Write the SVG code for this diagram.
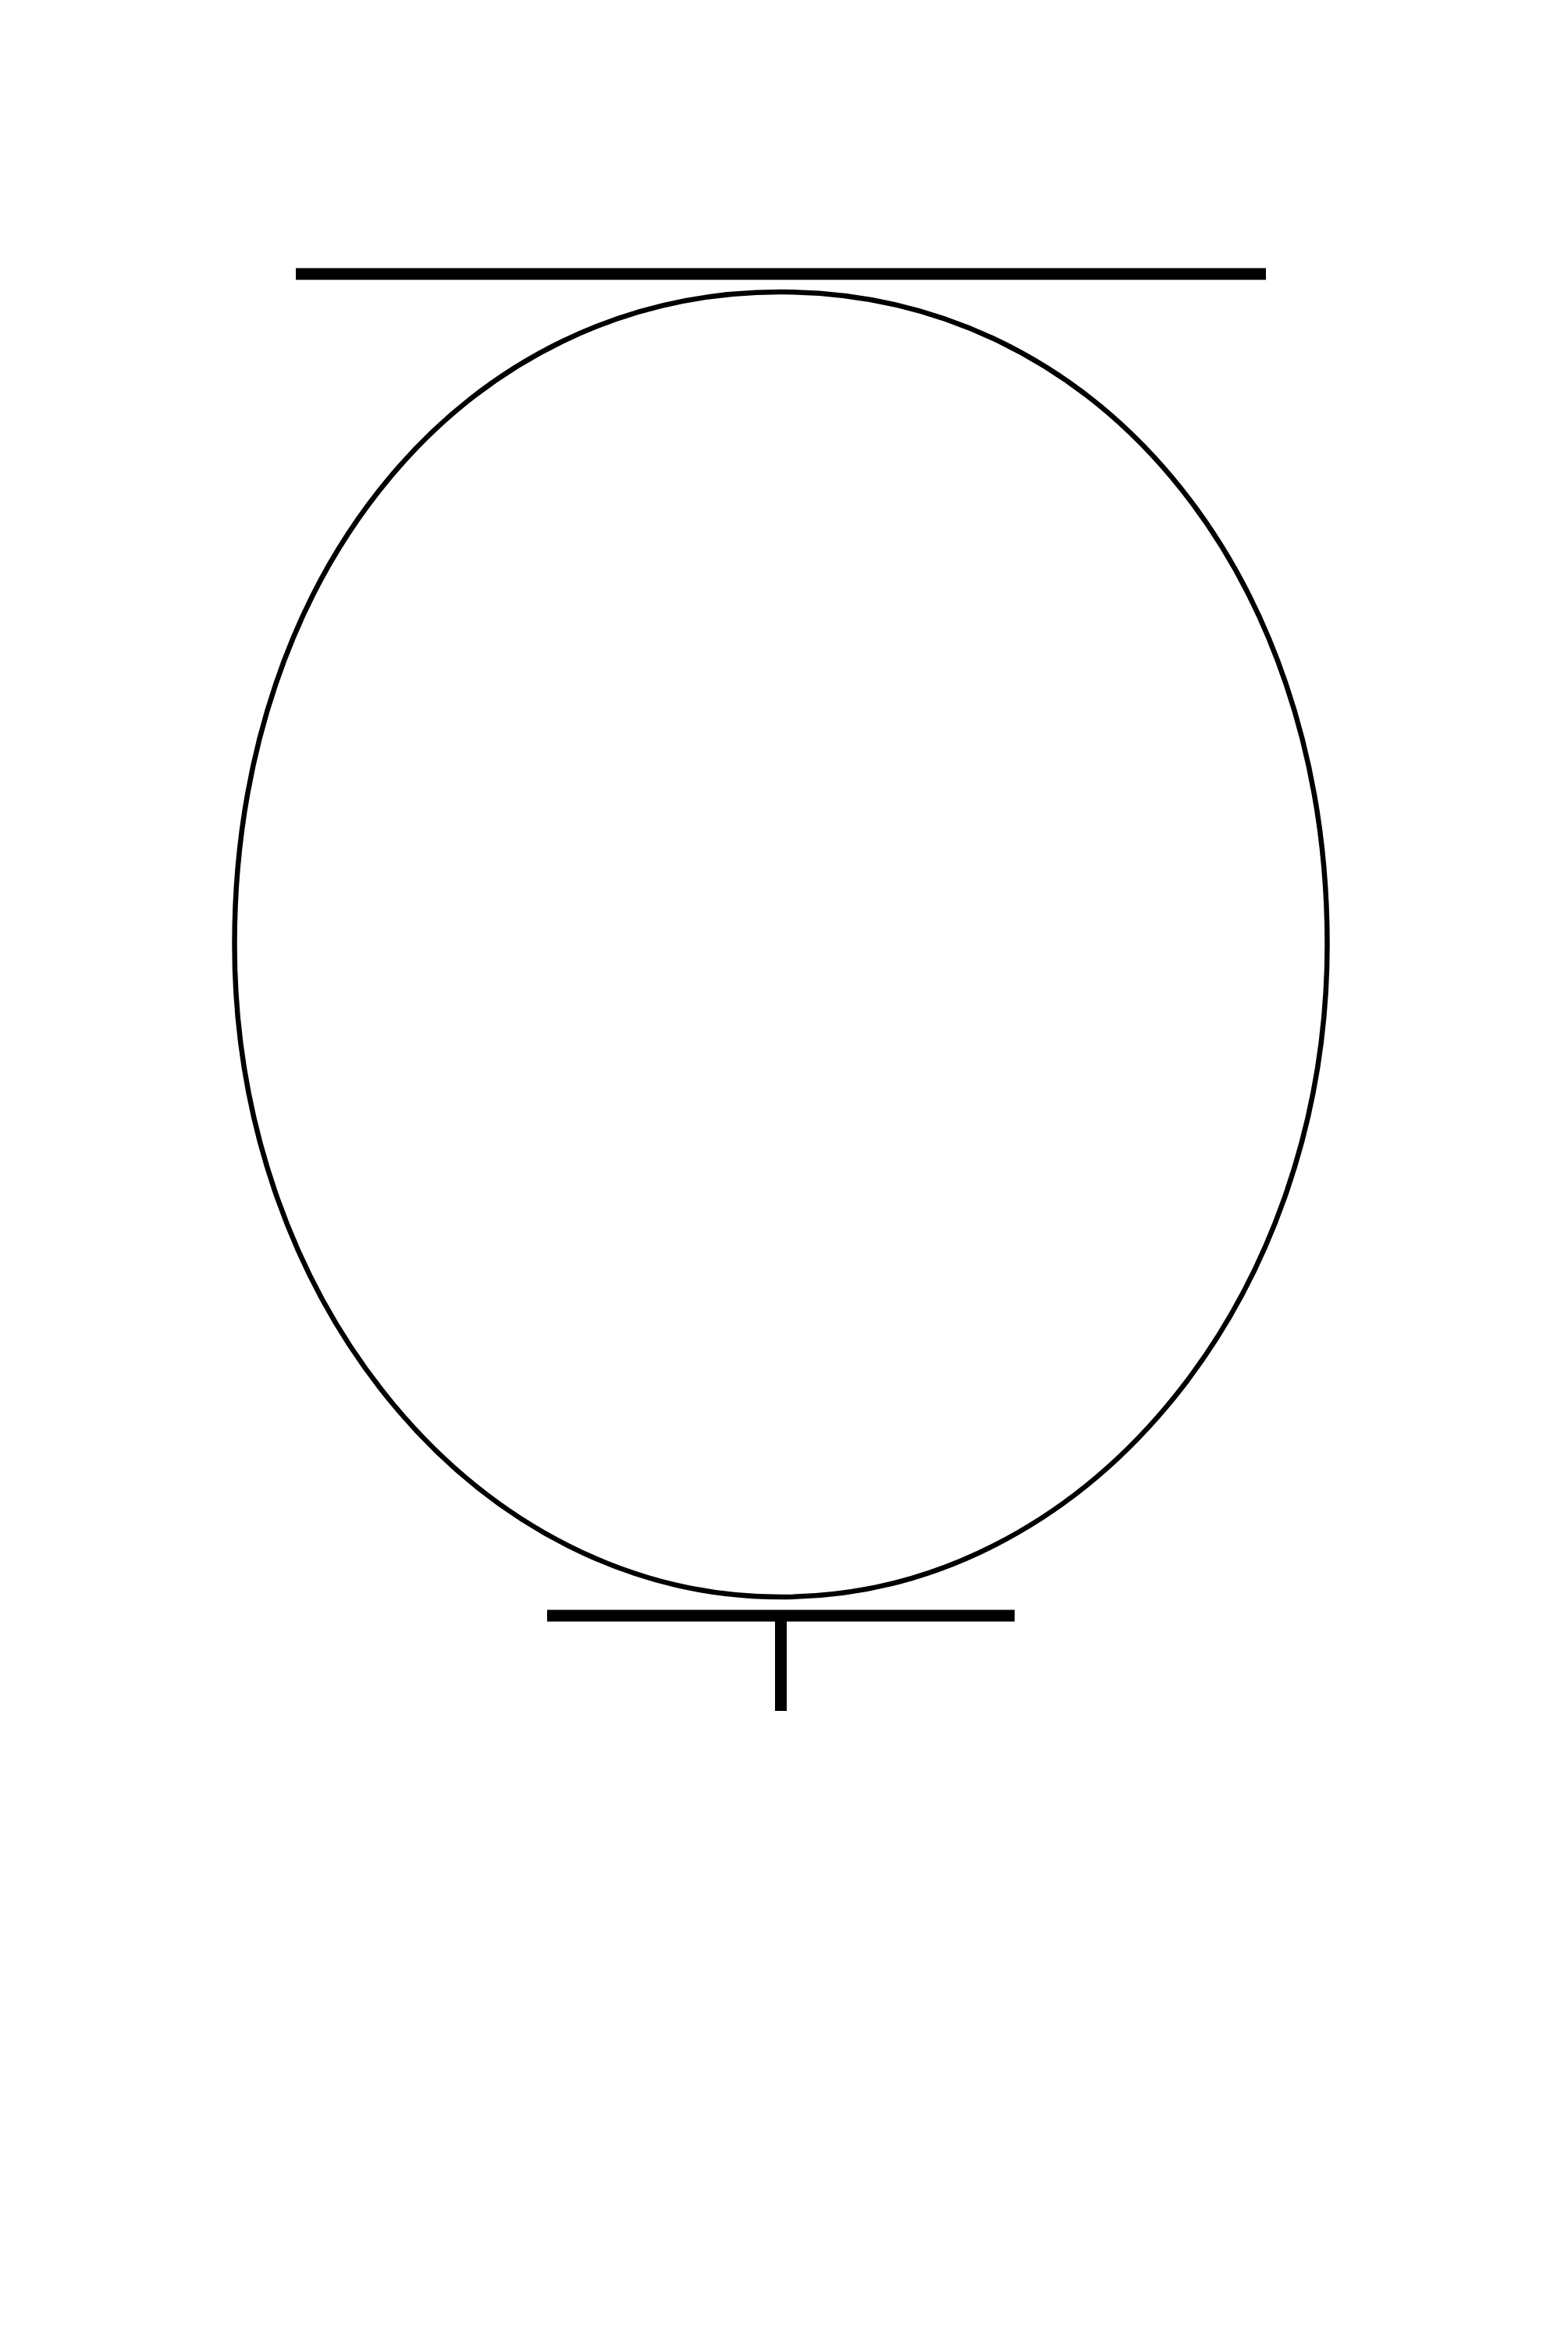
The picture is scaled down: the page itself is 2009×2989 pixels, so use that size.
<svg xmlns="http://www.w3.org/2000/svg" width="2009" height="2989" viewBox="0 0 2009 2989">
<style>
.bar{stroke:#000;stroke-width:15;fill:none}
.body{stroke:#000;stroke-width:6.5;fill:none}
</style>
<rect width="2009" height="2989" fill="#fff"/>
<g id="top-plate"><line class="bar" x1="379" y1="351" x2="1622" y2="351"/></g>
<g id="ellipse"><path class="body" d="M300.5,1210 C300.5,729 598,374 1000.5,374 C1403,374 1700.5,729 1700.5,1210 C1700.5,1672 1387,2046 1000.5,2046 C614,2046 300.5,1672 300.5,1210 Z"/></g>
<g id="bottom-terminal">
<line class="bar" x1="701" y1="2070" x2="1300" y2="2070"/>
<line class="bar" x1="1000.5" y1="2070" x2="1000.5" y2="2192"/>
</g>
<g id="connectors"></g>
</svg>
